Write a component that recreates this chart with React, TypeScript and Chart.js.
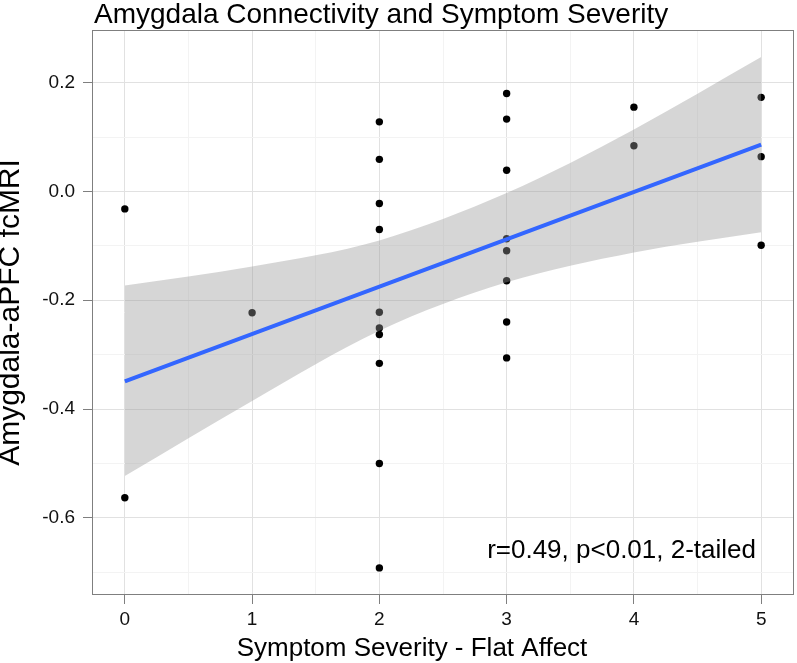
import React, { useEffect, useRef } from "react";
import { Chart, registerables } from "chart.js";

Chart.register(...registerables);

const TITLE = "Amygdala Connectivity and Symptom Severity";
const X_TITLE = "Symptom Severity - Flat Affect";
const Y_TITLE = "Amygdala-aPFC fcMRI";
const ANNOTATION = "r=0.49, p<0.01, 2-tailed";

// observations
const severity = [0, 0, 1, 2, 2, 2, 2, 2, 2, 2, 2, 2, 2, 3, 3, 3, 3, 3, 3, 3, 3, 4, 4, 5, 5, 5];
const connectivity = [
  -0.032, -0.563,
  -0.223,
  0.128, 0.059, -0.022, -0.07, -0.222, -0.251, -0.263, -0.316, -0.5, -0.692,
  0.18, 0.133, 0.039, -0.087, -0.109, -0.164, -0.24, -0.306,
  0.155, 0.084,
  0.173, 0.064, -0.099,
];

// fitted line and confidence band
const fitX = [0, 5];
const fitY = [-0.349, 0.086];
const bandX = [0, 1, 2, 3, 4, 5];
const bandUpper = [-0.173, -0.138, -0.09, -0.003, 0.114, 0.247];
const bandLower = [-0.523, -0.385, -0.256, -0.167, -0.112, -0.075];

// axes
const xTicks = [0, 0.5, 1, 1.5, 2, 2.5, 3, 3.5, 4, 4.5, 5];
const xMajor = [0, 1, 2, 3, 4, 5];
const yTicks = [-0.7, -0.6, -0.5, -0.4, -0.3, -0.2, -0.1, 0, 0.1, 0.2];
const yMajor = [-0.6, -0.4, -0.2, 0, 0.2];
const xRange = [-0.25, 5.25];
const yRange = [-0.74, 0.295];

const FONT = "'Liberation Sans', Arial, Helvetica, sans-serif";
const W = 797;
const H = 663;

const isIn = (list: number[], v: number) => list.some((m) => Math.abs(m - v) < 1e-6);

export default function App() {
  const ref = useRef<HTMLCanvasElement | null>(null);

  useEffect(() => {
    if (!ref.current) return;

    const textPlugin = {
      id: "panelText",
      afterDraw(chart: any) {
        const { ctx, chartArea } = chart;
        ctx.save();
        // panel border
        ctx.strokeStyle = "#7f7f7f";
        ctx.lineWidth = 1;
        ctx.strokeRect(
          chartArea.left - 0.5,
          chartArea.top - 0.5,
          chartArea.right - chartArea.left + 1,
          chartArea.bottom - chartArea.top + 1
        );
        ctx.fillStyle = "#000";
        ctx.textBaseline = "alphabetic";
        // title
        ctx.textAlign = "left";
        ctx.font = `28px ${FONT}`;
        ctx.fillText(TITLE, chartArea.left + 1, 23);
        // x axis title
        ctx.textAlign = "center";
        ctx.font = `26px ${FONT}`;
        ctx.fillText(X_TITLE, 412, 656);
        // annotation
        ctx.textAlign = "right";
        ctx.font = `26px ${FONT}`;
        ctx.fillText(ANNOTATION, chartArea.right - 37, 558);
        ctx.restore();
      },
    };

    const points = severity.map((x, i) => ({ x, y: connectivity[i] }));
    const fit = fitX.map((x, i) => ({ x, y: fitY[i] }));
    const upper = bandX.map((x, i) => ({ x, y: bandUpper[i] }));
    const lower = bandX.map((x, i) => ({ x, y: bandLower[i] }));

    const chart = new Chart(ref.current, {
      type: "scatter",
      data: {
        datasets: [
          {
            type: "line",
            label: "fit",
            data: fit,
            borderColor: "#3366FF",
            borderWidth: 4,
            pointRadius: 0,
            fill: false,
            order: 0,
          } as any,
          {
            type: "line",
            label: "upper",
            data: upper,
            borderWidth: 0,
            borderColor: "rgba(0,0,0,0)",
            backgroundColor: "rgba(153,153,153,0.4)",
            pointRadius: 0,
            fill: "+1",
            cubicInterpolationMode: "monotone",
            order: 1,
          } as any,
          {
            type: "line",
            label: "lower",
            data: lower,
            borderWidth: 0,
            borderColor: "rgba(0,0,0,0)",
            pointRadius: 0,
            fill: false,
            cubicInterpolationMode: "monotone",
            order: 2,
          } as any,
          {
            type: "scatter",
            label: "subjects",
            data: points,
            backgroundColor: "#000",
            borderColor: "#000",
            borderWidth: 0,
            pointRadius: 3.7,
            order: 3,
          } as any,
        ],
      },
      options: {
        responsive: false,
        animation: false,
        events: [],
        layout: { padding: { top: 31, right: 4, left: 0, bottom: 0 } },
        plugins: {
          legend: { display: false },
          tooltip: { enabled: false },
          title: { display: false },
        },
        scales: {
          x: {
            type: "linear",
            min: xRange[0],
            max: xRange[1],
            afterBuildTicks: (scale: any) => {
              scale.ticks = xTicks.map((v) => ({ value: v }));
            },
            afterFit: (scale: any) => {
              scale.height = 69;
            },
            border: { display: false },
            grid: {
              color: (c: any) => (isIn(xMajor, c.tick?.value) ? "#e1e1e1" : "#f3f3f3"),
              lineWidth: 1,
              drawTicks: true,
              tickLength: 10,
              tickColor: (c: any) => (isIn(xMajor, c.tick?.value) ? "#7f7f7f" : "rgba(0,0,0,0)"),
            },
            ticks: {
              autoSkip: false,
              maxRotation: 0,
              padding: 4,
              color: "#111",
              font: { family: FONT, size: 19 },
              callback: (v: any) => (isIn(xMajor, Number(v)) ? String(Number(v)) : ""),
            },
            title: { display: false, text: X_TITLE },
          },
          y: {
            type: "linear",
            min: yRange[0],
            max: yRange[1],
            afterBuildTicks: (scale: any) => {
              scale.ticks = yTicks.map((v) => ({ value: v }));
            },
            afterFit: (scale: any) => {
              scale.width = 93;
            },
            border: { display: false },
            grid: {
              color: (c: any) => (isIn(yMajor, c.tick?.value) ? "#e1e1e1" : "#f3f3f3"),
              lineWidth: 1,
              drawTicks: true,
              tickLength: 10,
              tickColor: (c: any) => (isIn(yMajor, c.tick?.value) ? "#7f7f7f" : "rgba(0,0,0,0)"),
            },
            ticks: {
              autoSkip: false,
              padding: 8,
              color: "#111",
              font: { family: FONT, size: 19 },
              callback: (v: any) => (isIn(yMajor, Number(v)) ? Number(v).toFixed(1) : ""),
            },
            title: {
              display: true,
              text: Y_TITLE,
              color: "#000",
              font: { family: FONT, size: 30, lineHeight: 0.72 },
              padding: { top: 0, bottom: 0 },
            },
          },
        },
      },
      plugins: [textPlugin],
    } as any);

    return () => chart.destroy();
  }, []);

  return (
    <div style={{ position: "absolute", left: 0, top: 0, width: W, height: H, background: "#fff" }}>
      <canvas ref={ref} width={W} height={H} style={{ display: "block" }} />
    </div>
  );
}
